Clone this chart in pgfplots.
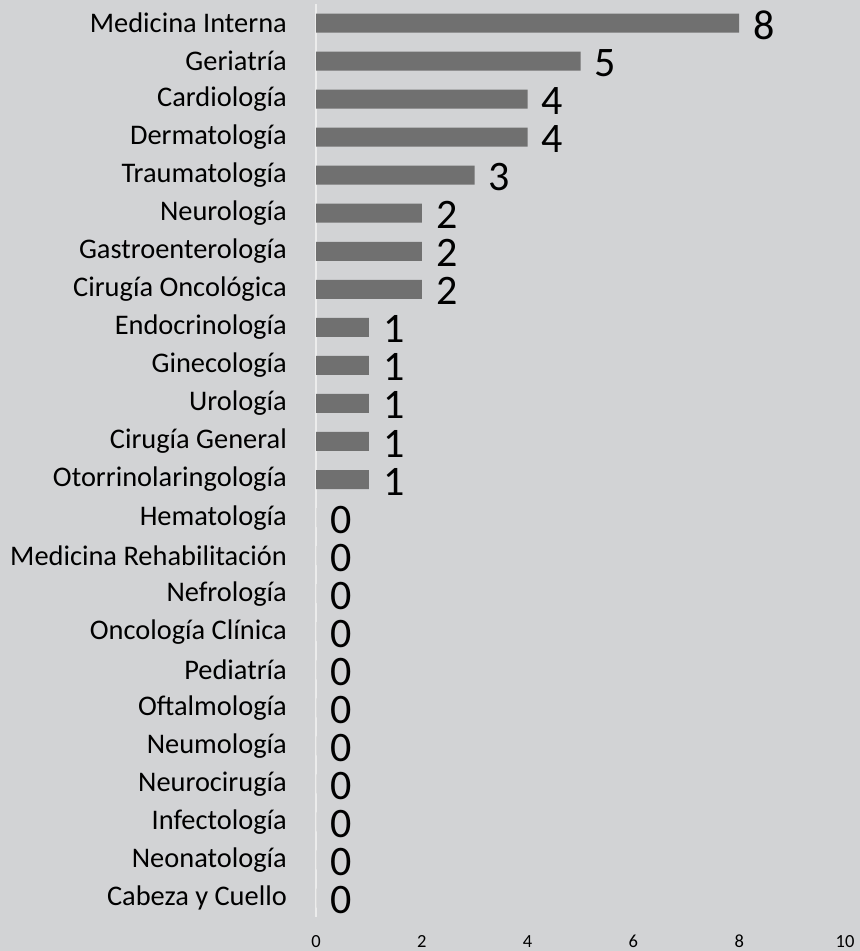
\documentclass[border=0pt]{standalone}
\usepackage{pgfplots}
\pgfplotsset{compat=1.18}
\usepackage{fontspec}
\setmainfont{Carlito}
\definecolor{bg}{RGB}{210,211,213}
\definecolor{barc}{RGB}{112,112,112}
\definecolor{axl}{RGB}{236,236,236}
\begin{document}
\begin{tikzpicture}
\fill[bg] (0,0) rectangle (860bp,-951bp);
\begin{axis}[
  at={(316bp,-917bp)}, anchor=south west,
  scale only axis, width=529bp, height=913bp,
  xbar, bar width=19bp,
  xmin=0, xmax=10,
  ymin=-0.5, ymax=23.5, y dir=reverse,
  ytick={0,...,23},
  yticklabels={Medicina Interna,Geriatría,Cardiología,Dermatología,Traumatología,Neurología,Gastroenterología,Cirugía Oncológica,Endocrinología,Ginecología,Urología,Cirugía General,Otorrinolaringología,Hematología,Medicina Rehabilitación,Nefrología,Oncología Clínica,Pediatría,Oftalmología,Neumología,Neurocirugía,Infectología,Neonatología,Cabeza y Cuello},
  xtick={0,2,...,10},
  /pgf/number format/assume math mode=true,
  axis x line*=bottom, x axis line style={draw=none},
  axis y line*=left, y axis line style={draw=axl, line width=2bp},
  major tick length=0pt,
  yticklabel style={font=\fontsize{28.4bp}{30bp}\selectfont, inner sep=0pt, xshift=-29bp},
  xticklabel style={font=\fontsize{18.5bp}{20bp}\selectfont, inner sep=0pt, anchor=base, yshift=-30bp},
  nodes near coords,
  every node near coord/.append style={font=\fontsize{42bp}{43bp}\selectfont, anchor=west, inner sep=0pt, xshift=14bp, yshift=-2bp, text=black},
  clip=false,
]
\addplot[fill=barc, draw=none] coordinates {
(8,0) (5,1) (4,2) (4,3) (3,4) (2,5) (2,6) (2,7) (1,8) (1,9) (1,10) (1,11) (1,12)
(0,13) (0,14) (0,15) (0,16) (0,17) (0,18) (0,19) (0,20) (0,21) (0,22) (0,23)};
\end{axis}
\pgfresetboundingbox
\path (0,0) rectangle (860bp,-951bp);
\end{tikzpicture}
\end{document}
